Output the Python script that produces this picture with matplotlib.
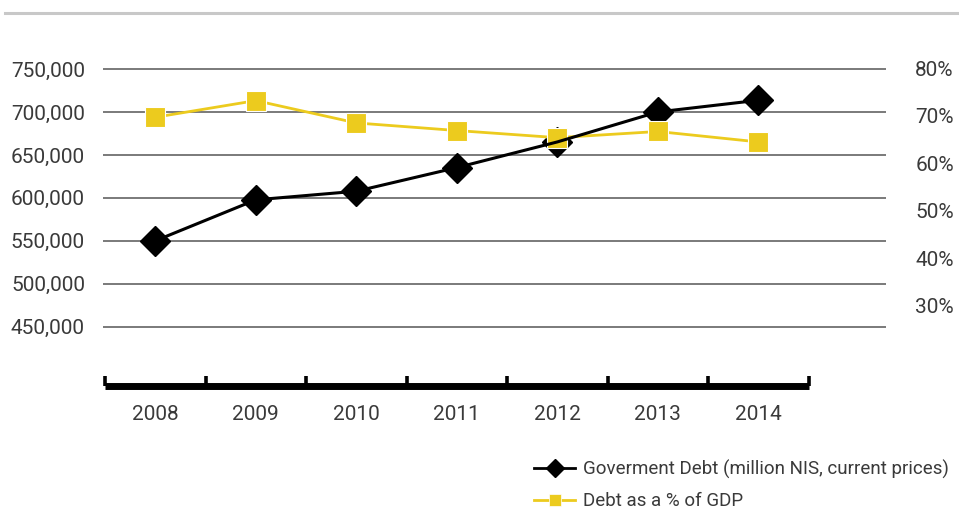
import numpy as np
import matplotlib
matplotlib.use('Agg')
import matplotlib.pyplot as plt
from matplotlib.lines import Line2D

plt.rcParams['font.family'] = ['Roboto', 'DejaVu Sans']

years = ['2008', '2009', '2010', '2011', '2012', '2013', '2014']
gov_debt = [550000, 597700, 607700, 635200, 665100, 700000, 713600]  # million NIS
debt_gdp = [69.7, 73.2, 68.5, 66.9, 65.4, 66.7, 64.5]  # % of GDP

left_ticks = [450000, 500000, 550000, 600000, 650000, 700000, 750000]
left_labels = ['450,000', '500,000', '550,000', '600,000', '650,000', '700,000', '750,000']
right_ticks = [30, 40, 50, 60, 70, 80]
right_labels = ['30%', '40%', '50%', '60%', '70%', '80%']

label_debt = 'Goverment Debt (million NIS, current prices)'
label_gdp = 'Debt as a % of GDP'

yellow = '#ECCB1E'
text_col = '#3a3a3a'
W, H = 959, 509

fig = plt.figure(figsize=(W / 100, H / 100), dpi=100)
ax = fig.add_axes([103 / W, (H - 386) / H, 783 / W, (386 - 40) / H])
ax.patch.set_visible(False)
ax2 = ax.twinx()

x = np.arange(len(years))

# black markers underneath, yellow series, black line on top
ax.plot(x, gov_debt, linestyle='none', marker='D', ms=15, color='black', zorder=2)
ax2.plot(x, debt_gdp, color=yellow, lw=2, marker='s', ms=14,
         markeredgecolor='white', markeredgewidth=0.8, zorder=3)
ax2.plot(x, gov_debt, color='black', lw=2.2, transform=ax.transData, zorder=4)

ax.set_xlim(-0.52, 7.27)
ax.set_ylim(380966, 783760)
ax2.set_ylim(13.12, 85.96)

ax.set_yticks(left_ticks)
ax.set_yticklabels(left_labels)
ax2.set_yticks(right_ticks)
ax2.set_yticklabels(right_labels)
ax.tick_params(axis='y', length=0, pad=13, labelsize=15, labelcolor=text_col)
ax2.tick_params(axis='y', length=0, pad=21, labelsize=15, labelcolor=text_col)
ax.yaxis.grid(True, color='#7a7a7a', lw=1.4)
ax.set_axisbelow(True)

# category axis: boundary ticks + labels at centres
ax.set_xticks(np.arange(len(years) + 1) - 0.5)
ax.set_xticklabels([])
ax.set_xticks(x, minor=True)
ax.set_xticklabels(years, minor=True)
ax.tick_params(axis='x', which='major', direction='in', length=7.5, width=2.6, color='black')
ax.tick_params(axis='x', which='minor', length=0, pad=14, labelsize=15, labelcolor=text_col)

for a in (ax, ax2):
    for s in ('left', 'right', 'top'):
        a.spines[s].set_visible(False)
ax2.spines['bottom'].set_visible(False)
ax.spines['bottom'].set_linewidth(5)
ax.spines['bottom'].set_bounds(-0.5, 6.5)
ax.spines['bottom'].set_capstyle('butt')

handles = [
    Line2D([], [], color='black', lw=2, marker='D', ms=9),
    Line2D([], [], color=yellow, lw=2, marker='s', ms=9, markeredgecolor='white', markeredgewidth=0.5),
]
fig.legend(handles, [label_debt, label_gdp], loc='center left',
           bbox_to_anchor=(517 / W, 1 - 485 / H), frameon=False, fontsize=13.5,
           handlelength=2.2, handletextpad=0.4, labelspacing=0.7, labelcolor=text_col)

# thin rule along the top
fig.add_artist(Line2D([5 / W, 1], [1 - 13 / H, 1 - 13 / H], color='#c8c8c8', lw=2.2))

fig.savefig('out.png', dpi=100)
